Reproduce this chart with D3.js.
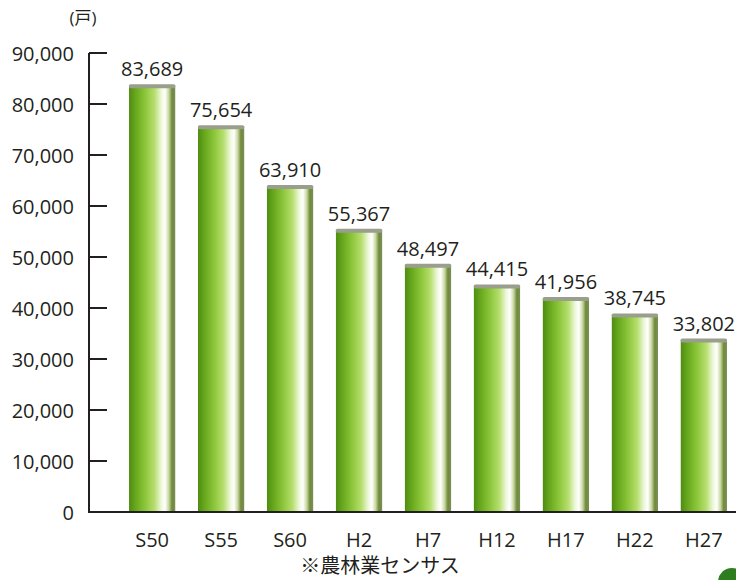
<!DOCTYPE html>
<html><head><meta charset="utf-8">
<script src="https://cdn.jsdelivr.net/npm/d3@7"></script>
<style>
body{margin:0;background:#fff;}
svg text{font-family:"Open Sans","Noto Sans CJK JP",sans-serif;fill:#231f20;}
</style></head>
<body><svg id="c" width="736" height="580"></svg>
<script>
const categories = ["S50","S55","S60","H2","H7","H12","H17","H22","H27"];
const values = [83689,75654,63910,55367,48497,44415,41956,38745,33802];
const yTicks = [0,10000,20000,30000,40000,50000,60000,70000,80000,90000];
const unitLabel = "(戸)";
const sourceNote = "※農林業センサス";

const svg = d3.select("#c");
const y = d3.scaleLinear().domain([0,90000]).range([512,53]);
const x = d3.scaleBand().domain(categories).range([118,738]).paddingInner(0.33).paddingOuter(0.16);

const defs = svg.append("defs");
const g = defs.append("linearGradient").attr("id","barg").attr("x1","0").attr("x2","1").attr("y1","0").attr("y2","0");
[[0,"#4f8c12"],[0.12,"#63a41a"],[0.35,"#8cc63a"],[0.55,"#b6de6e"],[0.7,"#eef8dc"],[0.78,"#ffffff"],[0.86,"#c8d8a0"],[0.93,"#6f8a3a"],[1,"#7c8e58"]]
 .forEach(([o,c])=>g.append("stop").attr("offset",o).attr("stop-color",c));

// axes
const yAxis = d3.axisLeft(y).tickValues(yTicks).tickSize(0).tickPadding(15).tickFormat(d3.format(","));
const ya = svg.append("g").attr("transform","translate(89,0)").call(yAxis);
ya.select(".domain").remove();
ya.selectAll("text").attr("font-size",20).attr("dy","0.35em");
svg.append("g").selectAll("line").data(yTicks.filter(d=>d>0)).join("line")
  .attr("x1",89).attr("x2",107).attr("y1",d=>y(d)).attr("y2",d=>y(d))
  .attr("stroke","#231f20").attr("stroke-width",2);
svg.append("line").attr("x1",89).attr("x2",89).attr("y1",y(90000)).attr("y2",513)
  .attr("stroke","#231f20").attr("stroke-width",2);

// bars
const bars = svg.append("g");
bars.selectAll("rect.bar").data(values).join("rect").attr("class","bar")
  .attr("x",(d,i)=>x(categories[i])).attr("width",x.bandwidth())
  .attr("y",d=>y(d)).attr("height",d=>y(0)-y(d)).attr("fill","url(#barg)");
bars.selectAll("rect.cap").data(values).join("rect").attr("class","cap")
  .attr("x",(d,i)=>x(categories[i])).attr("width",x.bandwidth())
  .attr("y",d=>y(d)-1).attr("height",4).attr("rx",1.5).attr("fill","#9a9e8c");

svg.append("line").attr("x1",88).attr("x2",736).attr("y1",512).attr("y2",512)
  .attr("stroke","#231f20").attr("stroke-width",2);

// value labels
svg.append("g").selectAll("text").data(values).join("text")
  .attr("x",(d,i)=>x(categories[i])+x.bandwidth()/2).attr("y",d=>y(d)-9)
  .attr("text-anchor","middle").attr("font-size",20).text(d=>d3.format(",")(d));

// x labels
const xAxis = d3.axisBottom(x).tickSize(0).tickPadding(0);
const xa = svg.append("g").attr("transform","translate(0,512)").call(xAxis);
xa.select(".domain").remove();
xa.selectAll("text").attr("font-size",20).attr("dy",0).attr("y",35);

svg.append("text").attr("x",83).attr("y",24).attr("text-anchor","middle").attr("font-size",17).text(unitLabel);
svg.append("text").attr("x",380).attr("y",573).attr("text-anchor","middle").attr("font-size",20).text(sourceNote);
svg.append("circle").attr("cx",732).attr("cy",582).attr("r",14).attr("fill","#2e7d1e");
</script></body></html>
